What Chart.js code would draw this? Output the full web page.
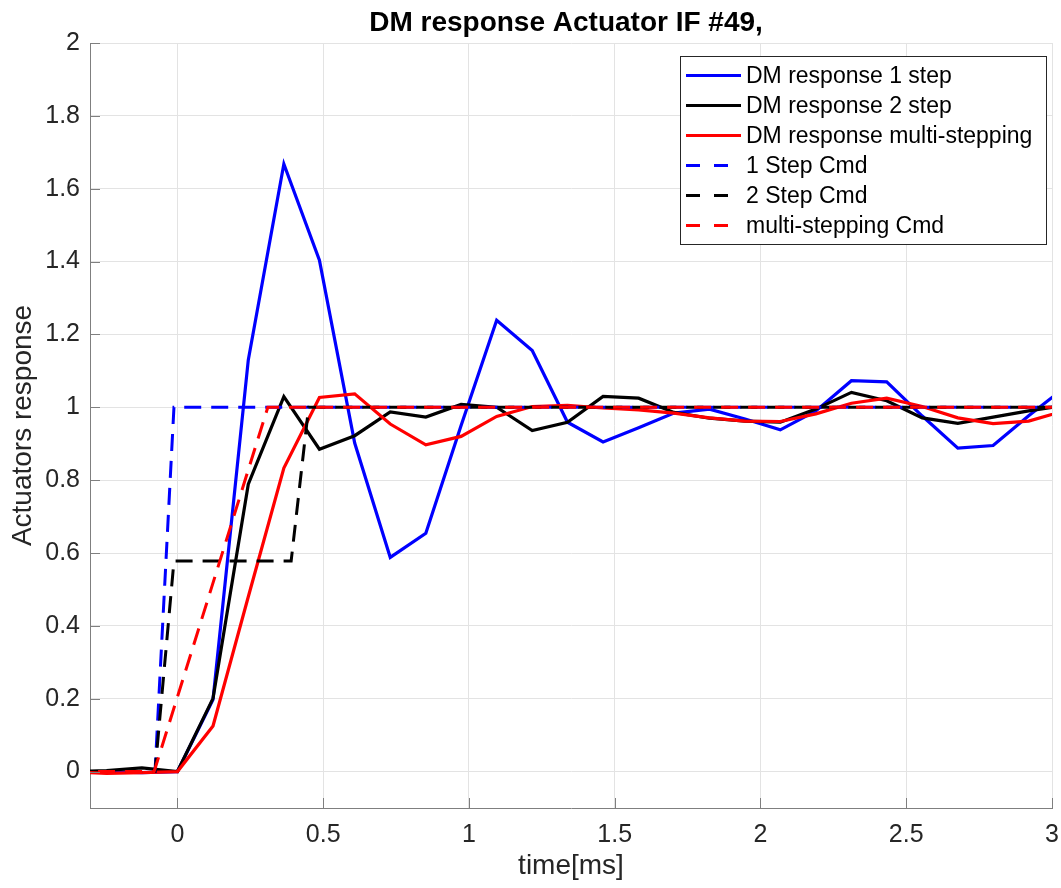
<!DOCTYPE html>
<html>
<head>
<meta charset="utf-8">
<title>DM response Actuator IF #49</title>
<script src="https://cdn.jsdelivr.net/npm/chart.js@4.4.1/dist/chart.umd.min.js"></script>
<style>
    body { margin: 0; background: #fff; }
    #wrap { width: 1061px; height: 888px; }
</style>
</head>
<body>
<div id="wrap"><canvas id="dmChart" width="1061" height="888"></canvas></div>
<script>
        // sample times [ms] of the measured responses
        const timeSamples = [-0.365, -0.243, -0.122, 0, 0.122, 0.243, 0.365, 0.487, 0.608, 0.730,
            0.852, 0.973, 1.095, 1.217, 1.338, 1.460, 1.582, 1.703, 1.825, 1.947,
            2.068, 2.190, 2.312, 2.433, 2.555, 2.677, 2.798, 2.920, 3.042];

        const response1Step = [0, 0, -0.003, 0, 0.198, 1.13, 1.668, 1.404, 0.902, 0.588,
            0.654, 0.95, 1.239, 1.156, 0.959, 0.905, 0.944, 0.984, 0.995, 0.968,
            0.938, 0.99, 1.073, 1.07, 0.976, 0.888, 0.895, 0.977, 1.053];

        const response2Step = [0, 0.003, 0.01, 0, 0.201, 0.789, 1.029, 0.885, 0.922, 0.987,
            0.973, 1.008, 1.0, 0.936, 0.959, 1.03, 1.025, 0.986, 0.97, 0.962,
            0.959, 0.995, 1.041, 1.018, 0.971, 0.956, 0.973, 0.99, 1.005];

        const responseMulti = [0, -0.005, -0.003, 0, 0.125, 0.48, 0.833, 1.027, 1.037, 0.954,
            0.897, 0.92, 0.975, 1.002, 1.005, 0.998, 0.993, 0.984, 0.971, 0.962,
            0.961, 0.982, 1.011, 1.025, 1.002, 0.971, 0.955, 0.962, 0.99];

        // commanded positions
        const cmd1StepTime = [-0.365, -0.077, -0.012, 3.042];
        const cmd1StepValue = [0, 0, 1, 1];
        const cmd2StepTime = [-0.365, -0.077, -0.012, 0.39, 0.45, 3.042];
        const cmd2StepValue = [0, 0, 0.578, 0.578, 1, 1];
        const cmdMultiTime = [-0.365, -0.08, 0.31, 3.042];
        const cmdMultiValue = [0, 0, 1, 1];

        const seriesLabels = ['DM response 1 step', 'DM response 2 step', 'DM response multi-stepping',
            '1 Step Cmd', '2 Step Cmd', 'multi-stepping Cmd'];

        const xTicks = [0, 0.5, 1, 1.5, 2, 2.5, 3];
        const yTicks = [0, 0.2, 0.4, 0.6, 0.8, 1, 1.2, 1.4, 1.6, 1.8, 2];

        const axisColor = '#7f7f7f';
        const fontFamily = '"Liberation Sans", Arial, sans-serif';
        const tickFont = { family: fontFamily, size: 25 };

        function toPoints(xs, ys) {
            return xs.map((x, i) => ({ x: x, y: ys[i] }));
        }

        function makeDataset(label, points, color, dashed, index) {
            return {
                label: label,
                data: points,
                borderColor: color,
                backgroundColor: color,
                borderWidth: dashed ? 3 : 3.2,
                borderDash: dashed ? [17, 10] : [],
                pointRadius: 0,
                tension: 0,
                fill: false,
                // later series are drawn on top, like the original plot
                order: 10 - index
            };
        }

        // inward tick marks, title and the boxed legend
        const decorPlugin = {
            id: 'decor',
            afterDraw(chart) {
                const ctx = chart.ctx;
                const area = chart.chartArea;
                const xs = chart.scales.x;
                const ys = chart.scales.y;

                ctx.save();
                ctx.strokeStyle = axisColor;
                ctx.lineWidth = 1;
                ctx.beginPath();
                xTicks.forEach(v => {
                    const px = Math.round(xs.getPixelForValue(v)) + 0.5;
                    ctx.moveTo(px, area.bottom);
                    ctx.lineTo(px, area.bottom - 10);
                });
                yTicks.forEach(v => {
                    const py = Math.round(ys.getPixelForValue(v)) + 0.5;
                    ctx.moveTo(area.left, py);
                    ctx.lineTo(area.left + 10, py);
                });
                ctx.stroke();

                // title
                ctx.fillStyle = '#000';
                ctx.font = 'bold 28px ' + fontFamily;
                ctx.textAlign = 'center';
                ctx.textBaseline = 'alphabetic';
                ctx.fillText('DM response Actuator IF #49,', 566, 31);

                // legend
                const box = { left: 680.5, top: 56.5, right: 1046.5, bottom: 244.5 };
                ctx.fillStyle = '#fff';
                ctx.fillRect(box.left, box.top, box.right - box.left, box.bottom - box.top);
                ctx.strokeStyle = '#262626';
                ctx.lineWidth = 1;
                ctx.setLineDash([]);
                ctx.strokeRect(box.left, box.top, box.right - box.left, box.bottom - box.top);

                ctx.font = '23px ' + fontFamily;
                ctx.textAlign = 'left';
                ctx.textBaseline = 'middle';
                chart.data.datasets.forEach((ds, i) => {
                    const y = 75.5 + i * 30;
                    ctx.strokeStyle = ds.borderColor;
                    ctx.lineWidth = 3;
                    ctx.setLineDash(ds.borderDash.length ? [14, 14] : []);
                    ctx.beginPath();
                    ctx.moveTo(686, y);
                    ctx.lineTo(741, y);
                    ctx.stroke();
                    ctx.fillStyle = '#000';
                    ctx.fillText(ds.label, 746, y + 1.5);
                });
                ctx.restore();
            }
        };

        function initializeChart() {
            const ctx = document.getElementById('dmChart').getContext('2d');
            const datasets = [
                makeDataset(seriesLabels[0], toPoints(timeSamples, response1Step), '#0000ff', false, 0),
                makeDataset(seriesLabels[1], toPoints(timeSamples, response2Step), '#000000', false, 1),
                makeDataset(seriesLabels[2], toPoints(timeSamples, responseMulti), '#ff0000', false, 2),
                makeDataset(seriesLabels[3], toPoints(cmd1StepTime, cmd1StepValue), '#0000ff', true, 3),
                makeDataset(seriesLabels[4], toPoints(cmd2StepTime, cmd2StepValue), '#000000', true, 4),
                makeDataset(seriesLabels[5], toPoints(cmdMultiTime, cmdMultiValue), '#ff0000', true, 5)
            ];

            new Chart(ctx, {
                type: 'line',
                data: { datasets: datasets },
                options: {
                    responsive: false,
                    animation: false,
                    layout: { padding: { left: 0, top: 43, right: 9, bottom: 0 } },
                    plugins: {
                        legend: { display: false },
                        tooltip: { enabled: false },
                        title: { display: false }
                    },
                    scales: {
                        x: {
                            type: 'linear',
                            min: -0.3,
                            max: 3,
                            afterBuildTicks: s => { s.ticks = xTicks.map(v => ({ value: v })); },
                            afterFit: s => {
                                s.height = 80;
                                // keep the last tick label from shrinking the plot area
                                s.paddingLeft = 0;
                                s.paddingRight = 0;
                            },
                            grid: { color: '#e3e3e3', lineWidth: 1, drawTicks: false },
                            border: { display: true, color: axisColor, width: 1 },
                            ticks: {
                                font: tickFont,
                                color: '#262626',
                                padding: 12,
                                maxRotation: 0,
                                callback: v => String(v)
                            },
                            title: {
                                display: true,
                                text: 'time[ms]',
                                color: '#262626',
                                font: { family: fontFamily, size: 28 },
                                padding: { top: 0, bottom: 5 }
                            }
                        },
                        y: {
                            type: 'linear',
                            min: -0.1,
                            max: 2,
                            afterBuildTicks: s => { s.ticks = yTicks.map(v => ({ value: v })); },
                            afterFit: s => {
                                s.width = 90;
                                s.paddingTop = 0;
                                s.paddingBottom = 0;
                            },
                            grid: { color: '#e3e3e3', lineWidth: 1, drawTicks: false },
                            border: { display: true, color: axisColor, width: 1 },
                            ticks: {
                                font: tickFont,
                                color: '#262626',
                                padding: 10,
                                callback: v => String(Math.round(v * 10) / 10)
                            },
                            title: {
                                display: true,
                                text: 'Actuators response',
                                color: '#262626',
                                font: { family: fontFamily, size: 28 },
                                padding: { top: 6, bottom: 0 }
                            }
                        }
                    }
                },
                plugins: [decorPlugin]
            });
        }

        window.onload = initializeChart;
</script>
</body>
</html>
